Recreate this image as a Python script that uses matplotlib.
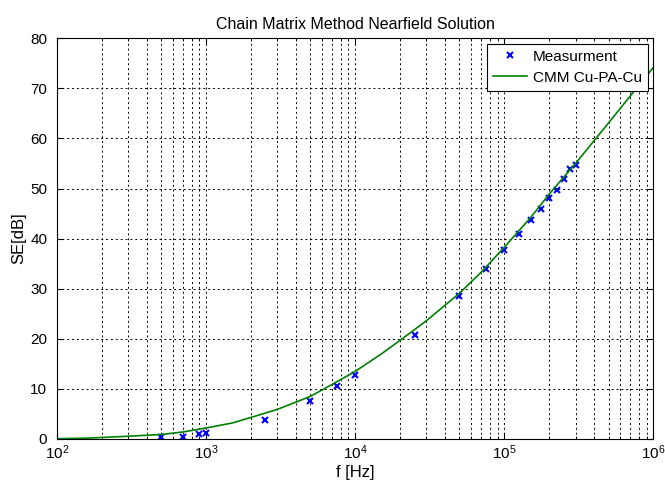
import matplotlib
matplotlib.use("Agg")
import matplotlib.pyplot as plt
from matplotlib.ticker import LogLocator, NullFormatter

plt.rcParams['font.family'] = ['Liberation Sans', 'DejaVu Sans']

# Measurement data
meas_f = [500, 700, 900, 1000, 2500, 5000, 7500, 10000, 25000, 50000, 75000,
          100000, 125000, 150000, 175000, 200000, 225000, 250000, 275000, 300000]
meas_se = [0.4, 0.4, 1.0, 1.2, 3.8, 7.6, 10.6, 12.8, 20.8, 28.5, 33.9,
           37.7, 41.0, 43.7, 46.0, 48.2, 49.8, 51.9, 53.8, 54.7]

# CMM model curve
cmm_f = [100, 150, 200, 300, 500, 700, 1000, 1500, 2000, 3000, 5000, 7000,
         10000, 15000, 20000, 30000, 50000, 70000, 100000, 150000, 200000,
         300000, 500000, 700000, 1000000]
cmm_se = [0.05, 0.15, 0.3, 0.55, 0.9, 1.4, 2.2, 3.2, 4.3, 5.9, 8.5, 10.9,
          13.5, 17.0, 19.7, 23.6, 29.1, 33.3, 38.3, 44.2, 48.9, 55.0, 63.1,
          68.5, 74.2]

fig = plt.figure(figsize=(6.65, 4.84), dpi=100)
ax = fig.add_axes([0.0857, 0.093, 0.897, 0.828])

ax.plot(meas_f, meas_se, linestyle='none', marker='x', color='#0000ff',
        markersize=5, markeredgewidth=1.5, label='Measurment')
ax.plot(cmm_f, cmm_se, color='#008000', linewidth=1.2, label='CMM Cu-PA-Cu')

ax.set_xscale('log')
ax.set_xlim(1e2, 1e6)
ax.set_ylim(0, 80)
ax.set_yticks(range(0, 81, 10))
ax.xaxis.set_major_locator(LogLocator(base=10, numticks=10))
ax.xaxis.set_minor_locator(LogLocator(base=10, subs=range(2, 10), numticks=20))
ax.xaxis.set_minor_formatter(NullFormatter())

ax.grid(True, which='major', axis='both', color='black', linestyle=(0, (2, 3)), linewidth=0.7)
ax.grid(True, which='minor', axis='x', color='black', linestyle=(0, (2, 3)), linewidth=0.7)

ax.tick_params(which='both', direction='in', top=True, right=True, labelsize=11)
ax.tick_params(axis='y', pad=7)
ax.tick_params(which='major', length=4)
ax.tick_params(which='minor', length=2)
for s in ax.spines.values():
    s.set_linewidth(0.8)

ax.set_title('Chain Matrix Method Nearfield Solution', fontsize=11.5, pad=7)
ax.set_xlabel('f [Hz]', fontsize=12, labelpad=2)
ax.set_ylabel('SE[dB]', fontsize=12, labelpad=3)

leg = ax.legend(loc='upper right', fontsize=11, frameon=True, fancybox=False,
                edgecolor='black', framealpha=1, borderaxespad=0.35,
                handlelength=2.2, handletextpad=0.4, borderpad=0.4,
                labelspacing=0.45)
leg.get_frame().set_linewidth(0.8)

fig.savefig('out.png', dpi=100)
